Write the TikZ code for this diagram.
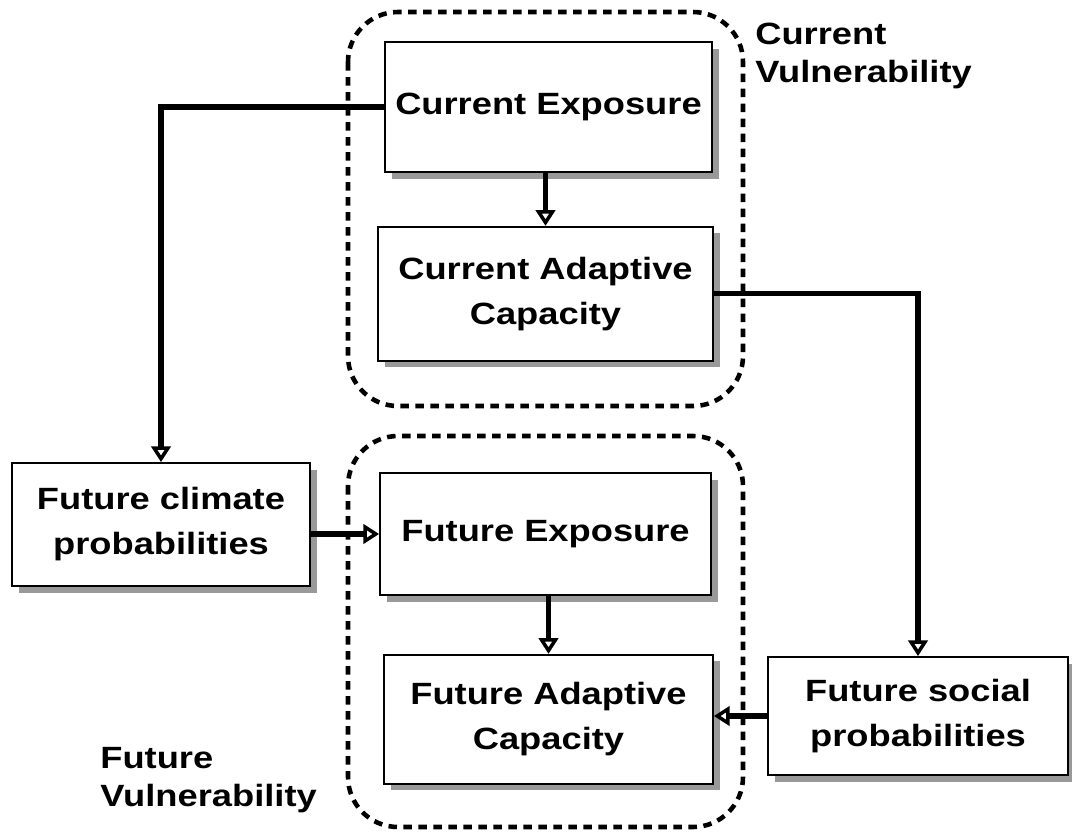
\documentclass[tikz,border=0pt]{standalone}
\usepackage{fontspec}
\setmainfont{Liberation Sans}[FakeStretch=1.18]
\usetikzlibrary{arrows.meta,shadows,positioning}

\begin{document}
\begin{tikzpicture}[node distance=1.06cm, box/.style={
% The shape:
rectangle,
% The border:
draw=black, line width=1pt, fill=white,
% The shadow:
drop shadow={shadow xshift=0.13cm, shadow yshift=-0.13cm, opacity=1, fill=black!40},
% The text:
align=center, font=\fontsize{17.5}{25.6}\selectfont\bfseries
}, group/.style={draw=black, line width=2.6pt, dash pattern=on 0.17cm off 0.13cm, rounded corners=1cm},
label/.style={align=left, inner sep=0pt, font=\fontsize{17.5}{21.5}\selectfont\bfseries},
link/.style={line width=3pt, -{Triangle[open, length=9pt, width=11pt, line width=2pt]}}]

\useasboundingbox (0,0) rectangle (21.44,-16.62);

	% the two groups
	\draw[group] (6.96,-0.24) rectangle (14.86,-8.12);
	\draw[group] (6.96,-8.72) rectangle (14.86,-16.54);

	\node (CE) [box, minimum width=6.54cm, minimum height=2.6cm] at (10.97,-2.14) {Current Exposure};
	\node (CAC) [box, minimum width=6.7cm, minimum height=2.68cm, below=of CE, xshift=-0.06cm] {Current Adaptive\\Capacity};

	\node (FCP) [box, minimum width=5.96cm, minimum height=2.46cm] at (3.22,-10.49) {Future climate\\probabilities};
	\node (FE) [box, minimum width=6.62cm, minimum height=2.44cm] at (10.91,-10.68) {Future Exposure};
	\node (FAC) [box, minimum width=6.58cm, minimum height=2.58cm, below=1.16cm of FE, xshift=0.06cm] {Future Adaptive\\Capacity};
	\node (FSP) [box, minimum width=6.0cm, minimum height=2.36cm] at (18.36,-14.32) {Future social\\probabilities};

	\node (CV) [label, anchor=west] at (15.1,-1.12) {Current\\Vulnerability};
	\node (FV) [label, anchor=west] at (2.0,-15.6) {Future\\Vulnerability};

	\draw[link] (CE.west) -| (FCP.north);
	\draw[link] (CE.south -| CAC.north) -- (CAC.north);
	\draw[link] (CAC.east) -| (FSP.north);
	\draw[link] (FCP.east |- FE.west) -- (FE.west);
	\draw[link] (FE.south -| FAC.north) -- (FAC.north);
	\draw[link] (FSP.west) -- (FSP.west -| FAC.east);
\end{tikzpicture}
\end{document}
